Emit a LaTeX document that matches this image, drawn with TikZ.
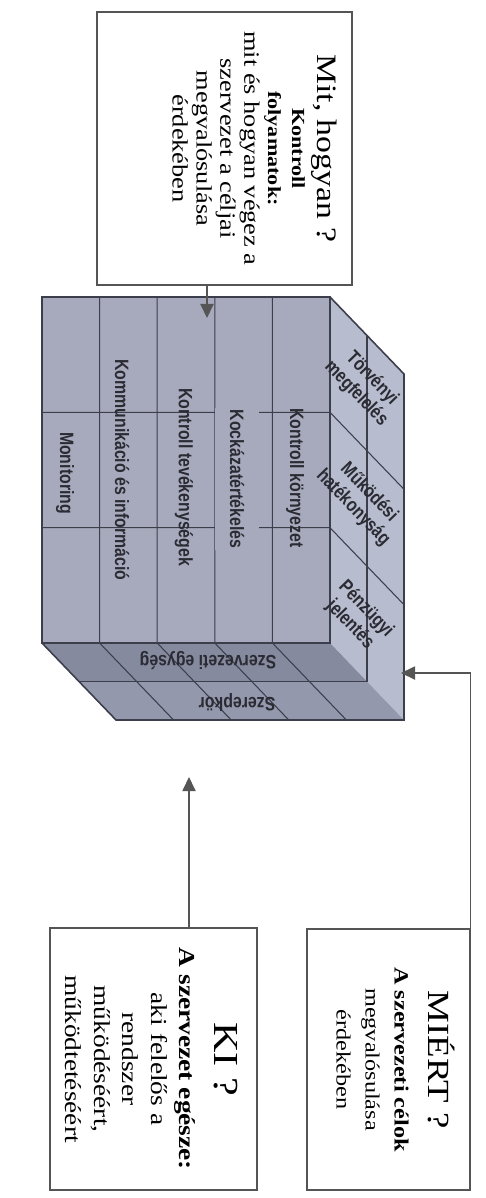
\documentclass[tikz,border=0pt]{standalone}
\usepackage{fontspec}
\newfontfamily\boxfont{Liberation Serif}[FakeStretch=1.2]
\newfontfamily\cubefont{Liberation Sans}[FakeStretch=0.82]
\usetikzlibrary{arrows.meta, positioning, calc}

\definecolor{frontcol}{HTML}{A7AABC}
\definecolor{sidecol}{HTML}{B8BCCF}
\definecolor{bottomcol}{HTML}{868A9F}
\definecolor{backrowcol}{HTML}{9498AC}
\definecolor{edgecol}{HTML}{3C3E4C}
\definecolor{inkcol}{HTML}{2A2B33}
\definecolor{framecol}{HTML}{555555}

\tikzset{
  frame/.style={draw=framecol, line width=0.7pt, fill=white},
  boxtext/.style={rotate=-90, anchor=north, align=center, inner sep=0pt, text=black},
  face/.style={draw=edgecol, line width=0.9pt},
  cubeline/.style={draw=edgecol, line width=0.6pt},
  cubetext/.style={font=\cubefont\bfseries\fontsize{11}{12.5}\selectfont, text=inkcol, inner sep=1pt, align=center},
  arr/.style={draw=framecol, line width=0.8pt, -{Triangle[length=8pt, width=7.5pt]}},
}

\begin{document}
\begin{tikzpicture}[x=0.02cm, y=-0.02cm]
  \useasboundingbox (0,0) rectangle (485,1198);

  % question boxes
  \node[frame, minimum width=5.1cm, minimum height=5.46cm] (mit) at (224.5,148.5) {};
  \node[frame, minimum width=3.26cm, minimum height=5.22cm] (miert) at (388.5,1059.5) {};
  \node[frame, minimum width=4.14cm, minimum height=5.24cm] (ki) at (153.5,1059) {};

  \node[boxtext, font=\boxfont\fontsize{12.5}{13.6}\selectfont] (mittext) at ([xshift=-0.3cm]mit.east)
    {{\fontsize{16}{16}\selectfont Mit, hogyan ?}\\[1pt]
     {\bfseries\fontsize{10.5}{13.6}\selectfont Kontroll}\\
     {\bfseries\fontsize{10.5}{13.6}\selectfont folyamatok:}\\
     mit és hogyan végez a\\ szervezet a céljai\\ megvalósulása\\ érdekében};

  \node[boxtext, font=\boxfont\fontsize{11.5}{16.5}\selectfont] (mierttext) at ([xshift=-0.3cm]miert.east)
    {{\fontsize{17.5}{17.5}\selectfont MIÉRT ?}\\[3pt]
     {\bfseries A szervezeti célok}\\ megvalósulása\\ érdekében};

  \node[boxtext, font=\boxfont\fontsize{13}{16.2}\selectfont] (kitext) at ([xshift=-0.38cm]ki.east)
    {{\fontsize{20}{20}\selectfont KI ?}\\[4pt]
     {\bfseries A szervezet egésze:}\\ aki felelős a\\ rendszer\\ működéséért,\\ működtetéséért};

  % cube faces
  \fill[frontcol] (42,297) rectangle (330,643);
  \fill[sidecol] (330,297) -- (404,374) -- (404,720) -- (330,643) -- cycle;
  \fill[bottomcol] (42,643) -- (330,643) -- (367,681.5) -- (79,681.5) -- cycle;
  \fill[backrowcol] (79,681.5) -- (367,681.5) -- (404,720) -- (116,720) -- cycle;

  \foreach \x in {99.6,157.2,214.8,272.4}
    \draw[cubeline] (\x,297) -- (\x,643) -- ++(74,77);
  \foreach \y in {412.3,527.7}
    \draw[cubeline] (42,\y) -- (330,\y) -- ++(74,77);
  \draw[cubeline] (367,335.5) -- (367,681.5) -- (79,681.5);

  \draw[face] (42,297) rectangle (330,643);
  \draw[face] (330,297) -- (404,374) -- (404,720) -- (116,720) -- (42,643);

  % components
  \node[cubetext, rotate=-90] (kornyezet) at (295,478) {Kontroll környezet};
  \node[cubetext, rotate=-90, fill=frontcol, minimum height=0.9cm] (kockazat) at (237,479) {Kockázatértékelés};
  \node[cubetext, rotate=-90] (tevekenyseg) at (184,477) {Kontroll tevékenységek};
  \node[cubetext, rotate=-90] (kommunikacio) at (122,470) {Kommunikáció és információ};
  \node[cubetext, rotate=-90] (monitoring) at (65,473) {Monitoring};

  % objectives
  \node[cubetext, rotate=-46] (torveny) at (364,386) {Törvényi\\megfelelés};
  \node[cubetext, rotate=-46] (hatekony) at (361,500) {Működési\\hatékonyság};
  \node[cubetext, rotate=-46] (penzugy) at (358,617) {Pénzügyi\\jelentés};

  % units
  \node[cubetext, rotate=180] (egyseg) at (208,661) {Szervezeti egység};
  \node[cubetext, rotate=180] (szerep) at (237,702) {Szerepkör};

  % arrows
  \coordinate (toptip) at (207,318);
  \coordinate (kitip) at (189,777);
  \coordinate (sidetip) at (401,673);
  \draw[arr] (mit.south -| toptip) -- (toptip);
  \draw[arr] (ki.north -| kitip) -- (kitip);
  \draw[arr] (miert.north east) |- (sidetip);
\end{tikzpicture}
\end{document}
